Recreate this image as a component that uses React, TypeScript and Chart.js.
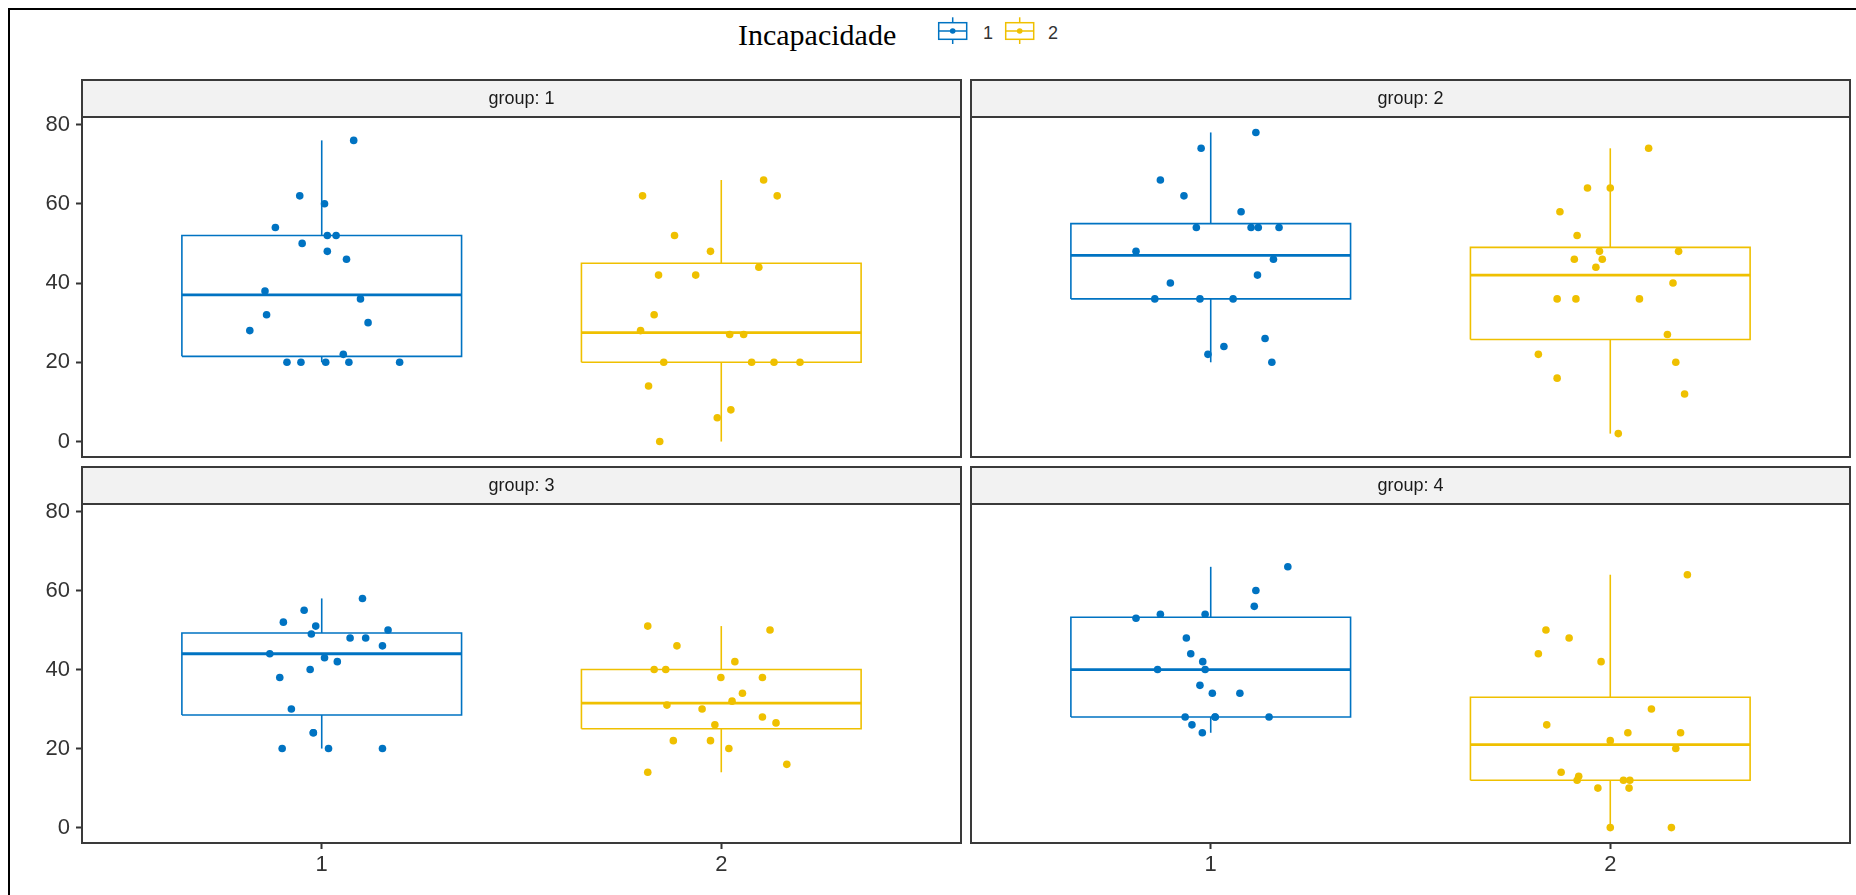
import React, { useEffect, useRef } from 'react';
import { Chart, registerables } from 'chart.js';

Chart.register(...registerables);

// ---------------- DATA ----------------
const categories = [1, 2];
const categoryLabels = ['1', '2'];
const legendTitle = 'Incapacidade';
const panelTitles = ['group: 1', 'group: 2', 'group: 3', 'group: 4'];
const yTickValues = [0, 20, 40, 60, 80];

// box statistics: [lower whisker, Q1, median, Q3, upper whisker]
const g1c1Box = [20, 21.5, 37, 52, 76];
const g1c2Box = [0, 20, 27.5, 45, 66];
const g2c1Box = [20, 36, 47, 55, 78];
const g2c2Box = [2, 25.75, 42, 49, 74];
const g3c1Box = [20, 28.5, 44, 49.25, 58];
const g3c2Box = [14, 25, 31.5, 40, 51];
const g4c1Box = [24, 28, 40, 53.25, 66];
const g4c2Box = [0, 12, 21, 33, 64];

// jittered observations: values and horizontal jitter offsets
const g1c1Values = [76, 62, 60, 54, 52, 52, 50, 48, 46, 38, 36, 32, 30, 28, 22, 20, 20, 20, 20, 20];
const g1c1Jitter = [0.08, -0.055, 0.007, -0.116, 0.014, 0.036, -0.049, 0.014, 0.062, -0.142, 0.097, -0.138, 0.116, -0.18, 0.054, -0.087, -0.052, 0.01, 0.068, 0.195];
const g1c2Values = [66, 62, 62, 52, 48, 44, 42, 42, 32, 28, 27, 27, 20, 20, 20, 20, 14, 8, 6, 0];
const g1c2Jitter = [0.106, -0.197, 0.14, -0.117, -0.027, 0.094, -0.157, -0.064, -0.168, -0.202, 0.021, 0.056, -0.144, 0.076, 0.132, 0.197, -0.182, 0.024, -0.01, -0.154];

const g2c1Values = [78, 74, 66, 62, 58, 54, 54, 54, 54, 48, 46, 42, 40, 36, 36, 36, 26, 24, 22, 20];
const g2c1Jitter = [0.113, -0.024, -0.126, -0.067, 0.076, -0.036, 0.101, 0.119, 0.171, -0.187, 0.157, 0.117, -0.101, -0.14, -0.027, 0.056, 0.136, 0.033, -0.007, 0.153];
const g2c2Values = [74, 64, 64, 58, 52, 48, 48, 46, 46, 44, 40, 36, 36, 36, 27, 22, 20, 16, 12, 2];
const g2c2Jitter = [0.096, -0.057, 0.0, -0.126, -0.083, -0.027, 0.171, -0.09, -0.02, -0.036, 0.157, -0.133, -0.086, 0.073, 0.143, -0.18, 0.164, -0.133, 0.186, 0.02];

const g3c1Values = [58, 55, 52, 51, 50, 49, 48, 48, 46, 44, 43, 42, 40, 38, 30, 24, 24, 20, 20, 20];
const g3c1Jitter = [0.102, -0.044, -0.096, -0.015, 0.166, -0.026, 0.071, 0.11, 0.152, -0.13, 0.007, 0.039, -0.029, -0.105, -0.076, -0.021, -0.021, -0.099, 0.017, 0.152];
const g3c2Values = [51, 50, 46, 42, 40, 40, 38, 38, 34, 32, 31, 30, 28, 26.5, 26, 22, 22, 20, 16, 14];
const g3c2Jitter = [-0.184, 0.122, -0.111, 0.034, -0.168, -0.139, -0.001, 0.103, 0.053, 0.027, -0.136, -0.048, 0.103, 0.137, -0.016, -0.12, -0.027, 0.019, 0.164, -0.184];

const g4c1Values = [66, 60, 56, 54, 54, 53, 48, 44, 42, 40, 40, 36, 34, 34, 28, 28, 28, 28, 26, 24];
const g4c1Jitter = [0.193, 0.113, 0.109, -0.126, -0.014, -0.187, -0.061, -0.05, -0.02, -0.133, -0.014, -0.027, 0.004, 0.073, -0.064, 0.011, 0.146, 0.011, -0.047, -0.021];
const g4c2Values = [64, 50, 48, 44, 42, 30, 26, 24, 24, 22, 20, 14, 13, 12, 12, 12, 10, 10, 0, 0];
const g4c2Jitter = [0.193, -0.161, -0.103, -0.18, -0.023, 0.103, -0.159, 0.044, 0.176, 0.0, 0.164, -0.123, -0.079, -0.083, 0.033, 0.049, 0.047, -0.031, 0.0, 0.153];

// ---------------- STYLE / LAYOUT ----------------
const COLORS = ['#0073C2', '#EFC000'];
const FONT = "'Liberation Sans', Arial, Helvetica, sans-serif";
const W = 1856;
const H = 895;
const Y_AXIS_W = 70;
const X_AXIS_H = 45;
const BOX_HALF = 0.35;
const STRIP_H = 37;

const panelData = [
  { boxes: [g1c1Box, g1c2Box], values: [g1c1Values, g1c2Values], jitter: [g1c1Jitter, g1c2Jitter] },
  { boxes: [g2c1Box, g2c2Box], values: [g2c1Values, g2c2Values], jitter: [g2c1Jitter, g2c2Jitter] },
  { boxes: [g3c1Box, g3c2Box], values: [g3c1Values, g3c2Values], jitter: [g3c1Jitter, g3c2Jitter] },
  { boxes: [g4c1Box, g4c2Box], values: [g4c1Values, g4c2Values], jitter: [g4c1Jitter, g4c2Jitter] },
];

const panelLayout = [
  { L: 82, T: 117, R: 961, B: 457, showX: false, showY: true },
  { L: 971, T: 117, R: 1850, B: 457, showX: false, showY: false },
  { L: 82, T: 504, R: 961, B: 843, showX: true, showY: true },
  { L: 971, T: 504, R: 1850, B: 843, showX: true, showY: false },
];

const framePlugin = {
  id: 'panelFrame',
  afterDraw(chart: any, _args: any, opts: any) {
    const { ctx, chartArea } = chart;
    const { left, top, right, bottom } = chartArea;
    ctx.save();
    ctx.fillStyle = '#F2F2F2';
    ctx.fillRect(left, top - STRIP_H, right - left, STRIP_H);
    ctx.strokeStyle = '#3A3A3A';
    ctx.lineWidth = 2;
    ctx.strokeRect(left, top - STRIP_H, right - left, STRIP_H);
    ctx.strokeRect(left, top, right - left, bottom - top);
    ctx.fillStyle = '#1A1A1A';
    ctx.font = `18px ${FONT}`;
    ctx.textAlign = 'center';
    ctx.textBaseline = 'middle';
    ctx.fillText(opts.title, (left + right) / 2, top - STRIP_H / 2 + 1);
    ctx.restore();
  },
};

function lineDs(data: any[], color: string, width: number) {
  return {
    type: 'scatter',
    data,
    showLine: true,
    borderColor: color,
    backgroundColor: color,
    borderWidth: width,
    pointRadius: 0,
    pointHoverRadius: 0,
    fill: false,
    tension: 0,
    order: 2,
  };
}

function buildDatasets(p: number) {
  const d = panelData[p];
  const ds: any[] = [];
  categories.forEach((c, i) => {
    const color = COLORS[i];
    const [lo, q1, med, q3, hi] = d.boxes[i];
    ds.push(lineDs([
      { x: c - BOX_HALF, y: q1 }, { x: c + BOX_HALF, y: q1 },
      { x: c + BOX_HALF, y: q3 }, { x: c - BOX_HALF, y: q3 }, { x: c - BOX_HALF, y: q1 },
    ], color, 1.6));
    ds.push(lineDs([{ x: c - BOX_HALF, y: med }, { x: c + BOX_HALF, y: med }], color, 2.8));
    ds.push(lineDs([{ x: c, y: q3 }, { x: c, y: hi }], color, 1.6));
    ds.push(lineDs([{ x: c, y: lo }, { x: c, y: q1 }], color, 1.6));
  });
  categories.forEach((c, i) => {
    const color = COLORS[i];
    ds.push({
      type: 'scatter',
      data: d.values[i].map((v, k) => ({ x: c + d.jitter[i][k], y: v })),
      backgroundColor: color,
      borderColor: color,
      borderWidth: 0,
      pointRadius: 3.8,
      pointHoverRadius: 3.8,
      order: 1,
    });
  });
  return ds;
}

function makeConfig(p: number): any {
  const lay = panelLayout[p];
  return {
    type: 'scatter',
    data: { datasets: buildDatasets(p) },
    plugins: [framePlugin],
    options: {
      animation: false,
      responsive: false,
      devicePixelRatio: 1,
      events: [],
      layout: {
        padding: {
          left: lay.L - (lay.showY ? Y_AXIS_W : 0),
          top: lay.T,
          right: W - lay.R,
          bottom: H - lay.B - (lay.showX ? X_AXIS_H : 0),
        },
      },
      plugins: {
        legend: { display: false },
        tooltip: { enabled: false },
        title: { display: false },
        panelFrame: { title: panelTitles[p] },
      },
      scales: {
        x: {
          type: 'linear',
          min: 0.4,
          max: 2.6,
          display: lay.showX,
          afterBuildTicks: (s: any) => { s.ticks = categories.map((v) => ({ value: v })); },
          afterFit: (s: any) => { s.height = lay.showX ? X_AXIS_H : 0; },
          ticks: {
            font: { size: 22, family: FONT },
            color: '#333333',
            padding: 3,
            callback: (v: number) => categoryLabels[categories.indexOf(v)] ?? '',
          },
          grid: { display: true, drawOnChartArea: false, drawTicks: true, tickLength: 6, tickColor: '#333333', tickWidth: 2 },
          border: { display: false },
        },
        y: {
          type: 'linear',
          min: -3.9,
          max: 81.9,
          display: lay.showY,
          afterBuildTicks: (s: any) => { s.ticks = yTickValues.map((v) => ({ value: v })); },
          afterFit: (s: any) => { s.width = lay.showY ? Y_AXIS_W : 0; },
          ticks: {
            font: { size: 22, family: FONT },
            color: '#333333',
            padding: 6,
          },
          grid: { display: true, drawOnChartArea: false, drawTicks: true, tickLength: 6, tickColor: '#333333', tickWidth: 2 },
          border: { display: false },
        },
      },
    },
  };
}

function LegendKey({ color, left }: { color: string; left: number }) {
  return (
    <svg width={34} height={32} style={{ position: 'absolute', left, top: 15 }}>
      <line x1={16.7} y1={2.3} x2={16.7} y2={29} stroke={color} strokeWidth={1.5} />
      <rect x={2.7} y={7.7} width={28} height={16.6} fill="#FFFFFF" stroke={color} strokeWidth={1.5} />
      <line x1={2.7} y1={16} x2={30.7} y2={16} stroke={color} strokeWidth={1.5} />
      <circle cx={16.7} cy={16} r={2.8} fill={color} />
    </svg>
  );
}

export default function App() {
  const r0 = useRef<HTMLCanvasElement>(null);
  const r1 = useRef<HTMLCanvasElement>(null);
  const r2 = useRef<HTMLCanvasElement>(null);
  const r3 = useRef<HTMLCanvasElement>(null);

  useEffect(() => {
    const refs = [r0, r1, r2, r3];
    const charts = refs.map((r, i) => new Chart(r.current as HTMLCanvasElement, makeConfig(i)));
    return () => charts.forEach((c) => c.destroy());
  }, []);

  const canvasStyle: React.CSSProperties = { position: 'absolute', left: 0, top: 0 };

  return (
    <div style={{ position: 'fixed', left: 0, top: 0, width: W, height: H, overflow: 'hidden', background: '#FFFFFF' }}>
      <div style={{ position: 'absolute', left: 8, top: 8, width: W, height: H, borderTop: '2px solid #000', borderLeft: '2px solid #000' }} />
      <span style={{ position: 'absolute', left: 738, top: 20, font: "30px 'Liberation Serif', 'Times New Roman', serif", lineHeight: '30px', color: '#000', whiteSpace: 'nowrap' }}>
        {legendTitle}
      </span>
      <LegendKey color={COLORS[0]} left={936} />
      <span style={{ position: 'absolute', left: 983, top: 24, font: `18px ${FONT}`, lineHeight: '18px', color: '#333' }}>{categoryLabels[0]}</span>
      <LegendKey color={COLORS[1]} left={1002.6} />
      <span style={{ position: 'absolute', left: 1048, top: 24, font: `18px ${FONT}`, lineHeight: '18px', color: '#333' }}>{categoryLabels[1]}</span>
      <canvas ref={r0} width={W} height={H} style={canvasStyle} />
      <canvas ref={r1} width={W} height={H} style={canvasStyle} />
      <canvas ref={r2} width={W} height={H} style={canvasStyle} />
      <canvas ref={r3} width={W} height={H} style={canvasStyle} />
    </div>
  );
}
